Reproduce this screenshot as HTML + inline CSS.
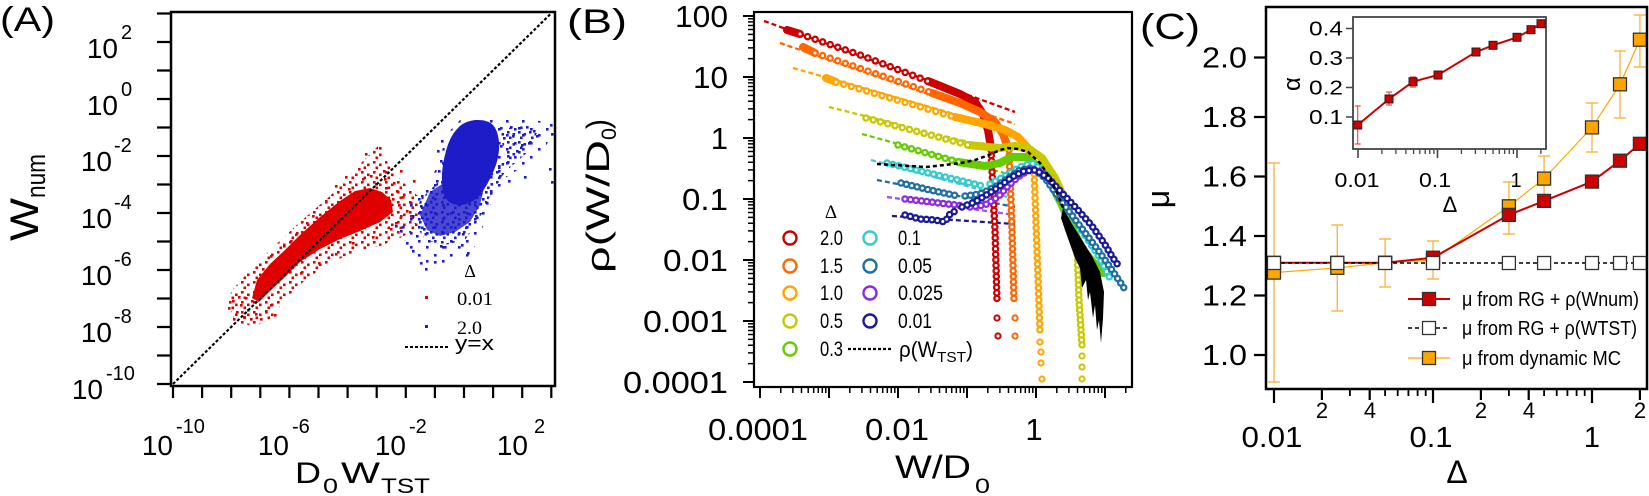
<!DOCTYPE html>
<html><head><meta charset="utf-8">
<style>
html,body{margin:0;padding:0;background:#fff;}
svg{display:block;}
text{font-family:"Liberation Sans",sans-serif;fill:#000;}
.r{font-family:"Liberation Serif",serif;}
</style></head>
<body>
<svg width="1649" height="496" viewBox="0 0 1649 496" xmlns="http://www.w3.org/2000/svg">
<defs>
<pattern id="pr" width="12" height="10" patternUnits="userSpaceOnUse">
<rect x="1" y="1" width="2.6" height="2.6" fill="#e00000"/>
<rect x="7" y="3.5" width="2.6" height="2.6" fill="#e00000"/>
<rect x="3.5" y="6.5" width="2.6" height="2.6" fill="#e00000"/>
</pattern>
<pattern id="pb" width="11" height="10" patternUnits="userSpaceOnUse">
<rect x="1" y="1" width="2.6" height="2.6" fill="#1c1cc8"/>
<rect x="6.5" y="3" width="2.6" height="2.6" fill="#1c1cc8"/>
<rect x="3" y="6.5" width="2.6" height="2.6" fill="#1c1cc8"/>
</pattern>
<pattern id="pb2" width="16" height="14" patternUnits="userSpaceOnUse">
<rect x="2" y="2" width="2.6" height="2.6" fill="#1c1cc8"/>
<rect x="10" y="8" width="2.6" height="2.6" fill="#1c1cc8"/>
</pattern>
</defs>
<rect width="1649" height="496" fill="#fff"/>

<!-- ================= PANEL A ================= -->
<text x="0" y="31" font-size="34" textLength="55" lengthAdjust="spacingAndGlyphs">(A)</text>
<!-- red halo -->
<path fill="url(#pr)" d="M226,300 L234,288 L250,270 L270,250 L300,222 L330,196 L345,180 L362,162 L378,146 L392,170 L405,184 L420,198 L418,228 L400,238 L380,246 L355,252 L330,263 L305,280 L285,300 L272,318 L256,326 L236,323 Z"/>
<!-- scatter red -->
<path fill="#e00000" d="M252,298 L257,280 L270,264 L285,250 L300,235 L320,217 L340,201 L355,191 L370,188 L382,192 L391,200 L393,212 L380,222 L360,231 L340,239 L320,249 L300,262 L285,277 L270,291 L259,302 Z"/>
<path fill="#e00000" d="M228,307h2.6v2.6h-2.6z M232,300h2.6v2.6h-2.6z M236,311h2.6v2.6h-2.6z M240,304h2.6v2.6h-2.6z M243,316h2.6v2.6h-2.6z M247,309h2.6v2.6h-2.6z M250,318h2.6v2.6h-2.6z M238,296h2.6v2.6h-2.6z M245,297h2.6v2.6h-2.6z M233,318h2.6v2.6h-2.6z M255,313h2.6v2.6h-2.6z M260,318h2.6v2.6h-2.6z M265,310h2.6v2.6h-2.6z M270,304h2.6v2.6h-2.6z M274,314h2.6v2.6h-2.6z M251,300h2.6v2.6h-2.6z M262,268h2.6v2.6h-2.6z M270,255h2.6v2.6h-2.6z M275,262h2.6v2.6h-2.6z M283,245h2.6v2.6h-2.6z M290,240h2.6v2.6h-2.6z M296,232h2.6v2.6h-2.6z M306,222h2.6v2.6h-2.6z M312,215h2.6v2.6h-2.6z M325,200h2.6v2.6h-2.6z M335,185h2.6v2.6h-2.6z M345,176h2.6v2.6h-2.6z M358,168h2.6v2.6h-2.6z M365,153h2.6v2.6h-2.6z M379,147h2.6v2.6h-2.6z M362,178h2.6v2.6h-2.6z M370,175h2.6v2.6h-2.6z M348,188h2.6v2.6h-2.6z M300,272h2.6v2.6h-2.6z M318,262h2.6v2.6h-2.6z M335,253h2.6v2.6h-2.6z M352,242h2.6v2.6h-2.6z M372,236h2.6v2.6h-2.6z M390,228h2.6v2.6h-2.6z M392,198h2.6v2.6h-2.6z M398,204h2.6v2.6h-2.6z M402,196h2.6v2.6h-2.6z M406,210h2.6v2.6h-2.6z M410,202h2.6v2.6h-2.6z M400,215h2.6v2.6h-2.6z M395,222h2.6v2.6h-2.6z M410,215h2.6v2.6h-2.6z M388,210h2.6v2.6h-2.6z M396,190h2.6v2.6h-2.6z M385,187h2.6v2.6h-2.6z M393,182h2.6v2.6h-2.6z M384,178h2.6v2.6h-2.6z M375,183h2.6v2.6h-2.6z M383,170h2.6v2.6h-2.6z M400,170h2.6v2.6h-2.6z M413,180h2.6v2.6h-2.6z"/>
<!-- blue halo -->
<path fill="url(#pb2)" d="M400,228 L410,200 L425,188 L440,162 L445,136 L460,120 L495,118 L540,121 L553,127 L545,150 L525,165 L505,178 L490,205 L480,235 L470,256 L445,264 L425,272 L410,256 Z"/>
<path fill="url(#pb)" d="M420,200 L440,180 L480,185 L490,175 L505,160 L500,130 L520,125 L538,130 L530,150 L505,172 L488,200 L478,222 L465,240 L445,245 L425,240 L414,222 Z"/>
<!-- scatter blue -->
<path fill="#1c1cc8" fill-opacity="0.8" d="M430,192 L445,182 L485,184 L480,205 L470,222 L455,232 L440,236 L427,230 L420,215 Z"/>
<path fill="#1c1cc8" d="M458,128 C465,119 485,117 493,125 C500,133 501,150 496,165 C491,178 485,190 477,198 C468,206 455,208 447,200 C440,192 441,170 445,155 C448,142 452,134 458,128 Z"/>
<path fill="#1c1cc8" d="M500,127h2.6v2.6h-2.6z M510,126h2.6v2.6h-2.6z M518,127h2.6v2.6h-2.6z M526,126h2.6v2.6h-2.6z M503,137h2.6v2.6h-2.6z M512,135h2.6v2.6h-2.6z M521,144h2.6v2.6h-2.6z M528,142h2.6v2.6h-2.6z M533,130h2.6v2.6h-2.6z M536,135h2.6v2.6h-2.6z M507,155h2.6v2.6h-2.6z M516,150h2.6v2.6h-2.6z M498,165h2.6v2.6h-2.6z M550,124h2.6v2.6h-2.6z M551,133h2.6v2.6h-2.6z M549,168h2.6v2.6h-2.6z M551,181h2.6v2.6h-2.6z M524,176h2.6v2.6h-2.6z M420,205h2.6v2.6h-2.6z M418,218h2.6v2.6h-2.6z M423,228h2.6v2.6h-2.6z M428,240h2.6v2.6h-2.6z M440,245h2.6v2.6h-2.6z M416,235h2.6v2.6h-2.6z M412,215h2.6v2.6h-2.6z M421,195h2.6v2.6h-2.6z M462,233h2.6v2.6h-2.6z M475,215h2.6v2.6h-2.6z M420,262h2.6v2.6h-2.6z M425,268h2.6v2.6h-2.6z M434,261h2.6v2.6h-2.6z M444,246h2.6v2.6h-2.6z M461,244h2.6v2.6h-2.6z M467,252h2.6v2.6h-2.6z M412,250h2.6v2.6h-2.6z M406,242h2.6v2.6h-2.6z M400,230h2.6v2.6h-2.6z M395,225h2.6v2.6h-2.6z M440,160h2.6v2.6h-2.6z M438,170h2.6v2.6h-2.6z M436,180h2.6v2.6h-2.6z M437,150h2.6v2.6h-2.6z M441,140h2.6v2.6h-2.6z M500,145h2.6v2.6h-2.6z M499,175h2.6v2.6h-2.6z M490,192h2.6v2.6h-2.6z M486,202h2.6v2.6h-2.6z M508,180h2.6v2.6h-2.6z"/>
<!-- diagonal -->
<path d="M173,384 L551,13.5" stroke="#000" stroke-width="2.2" stroke-dasharray="3 2" fill="none"/>
<!-- frame A -->
<rect x="171" y="12" width="384" height="374" fill="none" stroke="#000" stroke-width="2.5"/>
<path stroke="#000" stroke-width="2.2" fill="none" d="M157,13.5H171 M157,42H171 M157,70.5H171 M157,99H171 M157,127.5H171 M157,156H171 M157,184.5H171 M157,213H171 M157,241.5H171 M157,270H171 M157,298.5H171 M157,327H171 M157,355.5H171 M157,384H171 M173,386V398 M202.1,386V398 M231.2,386V398 M260.3,386V398 M289.4,386V398 M318.5,386V398 M347.6,386V398 M376.7,386V398 M405.8,386V398 M434.9,386V398 M464,386V398 M493.1,386V398 M522.2,386V398 M551.3,386V398"/>
<!-- y labels A -->
<text x="118" y="58" text-anchor="end" font-size="28">10</text><text x="121" y="39" font-size="20">2</text>
<text x="118" y="115" text-anchor="end" font-size="28">10</text><text x="121" y="96" font-size="20">0</text>
<text x="112" y="171" text-anchor="end" font-size="28">10</text><text x="114" y="152" font-size="20">-2</text>
<text x="112" y="228" text-anchor="end" font-size="28">10</text><text x="114" y="209" font-size="20">-4</text>
<text x="112" y="285" text-anchor="end" font-size="28">10</text><text x="114" y="266" font-size="20">-6</text>
<text x="112" y="342" text-anchor="end" font-size="28">10</text><text x="114" y="323" font-size="20">-8</text>
<text x="103" y="399" text-anchor="end" font-size="28">10</text><text x="106" y="380" font-size="20">-10</text>
<!-- x labels A -->
<text x="173" y="455" text-anchor="end" font-size="28">10</text><text x="176" y="433" font-size="20">-10</text>
<text x="289" y="455" text-anchor="end" font-size="28">10</text><text x="292" y="433" font-size="20">-6</text>
<text x="406" y="455" text-anchor="end" font-size="28">10</text><text x="409" y="433" font-size="20">-2</text>
<text x="528" y="455" text-anchor="end" font-size="28">10</text><text x="534" y="433" font-size="20">2</text>
<!-- x title A -->
<text x="295" y="483" font-size="30" textLength="26" lengthAdjust="spacingAndGlyphs">D</text>
<text x="323" y="493" font-size="21" textLength="15" lengthAdjust="spacingAndGlyphs">0</text>
<text x="341" y="483" font-size="30" textLength="39" lengthAdjust="spacingAndGlyphs">W</text>
<text x="381" y="493" font-size="21" textLength="49" lengthAdjust="spacingAndGlyphs">TST</text>
<!-- y title A -->
<text transform="translate(38,241) rotate(-90)" font-size="40" textLength="43" lengthAdjust="spacingAndGlyphs">W</text>
<text transform="translate(45,198) rotate(-90)" font-size="27" textLength="44" lengthAdjust="spacingAndGlyphs">num</text>
<!-- legend A -->
<text x="470" y="277" text-anchor="middle" class="r" font-size="18">Δ</text>
<rect x="425" y="296" width="3" height="3" fill="#e00000"/>
<text x="457" y="305" class="r" font-size="19" textLength="36" lengthAdjust="spacingAndGlyphs">0.01</text>
<rect x="425" y="325" width="3" height="3" fill="#1c1cc8"/>
<text x="457" y="334" class="r" font-size="19" textLength="25" lengthAdjust="spacingAndGlyphs">2.0</text>
<path d="M405,347H448" stroke="#000" stroke-width="2" stroke-dasharray="3 2"/>
<text x="455" y="350" font-size="20" textLength="39" lengthAdjust="spacingAndGlyphs">y=x</text>

<!-- ================= PANEL B ================= -->
<text x="567" y="33" font-size="34" textLength="60" lengthAdjust="spacingAndGlyphs">(B)</text>
<g fill="none" stroke-width="2.3" stroke-dasharray="5 3">
<path d="M764,21 L1015,112" stroke="#cc0000"/>
<path d="M780,43 L1015,124" stroke="#ff6600"/>
<path d="M793,68 L1000,127" stroke="#ffa500"/>
<path d="M829,107 L1000,150" stroke="#c8c800"/>
<path d="M862,134 L1015,176" stroke="#66cc00"/>
<path d="M871,160 L1015,199" stroke="#55b8ee"/>
<path d="M877,180 L1015,207" stroke="#1f6fa0"/>
<path d="M887,197 L1015,215" stroke="#9955ee"/>
<path d="M892,216 L1015,224" stroke="#1a1a99"/>
</g>
<g fill="none" stroke-linecap="round" stroke-linejoin="round">
<path d="M787,30 L800,34" stroke="#cc0000" stroke-width="8"/>
<path d="M928,81 L960,94 L975,102 L983,114 L988,130 L991,148" stroke="#cc0000" stroke-width="8"/>
<path d="M800,34 L860,55 L930,82" stroke="#cc0000" stroke-width="7.5" stroke-dasharray="0 8"/>
<path d="M800,34 L860,55 L930,82" stroke="#fff" stroke-width="3" stroke-dasharray="0 8"/>
<path d="M991,150 L995,230 L997,300" stroke="#cc0000" stroke-width="7.5" stroke-dasharray="0 5.5"/>
<path d="M991,150 L995,230 L997,300" stroke="#fff" stroke-width="3" stroke-dasharray="0 5.5"/>
<path d="M803,47 L815,53" stroke="#ff6600" stroke-width="8"/>
<path d="M932,93 L960,103 L980,112 L995,122 L1003,134 L1008,148" stroke="#ff6600" stroke-width="8"/>
<path d="M815,53 L935,94" stroke="#ff6600" stroke-width="7.5" stroke-dasharray="0 8"/>
<path d="M815,53 L935,94" stroke="#fff" stroke-width="3" stroke-dasharray="0 8"/>
<path d="M1009,150 L1012,230 L1014,300" stroke="#ff6600" stroke-width="7.5" stroke-dasharray="0 5.5"/>
<path d="M1009,150 L1012,230 L1014,300" stroke="#fff" stroke-width="3" stroke-dasharray="0 5.5"/>
<path d="M826,78 L836,82" stroke="#ffa500" stroke-width="8"/>
<path d="M955,117 L985,124 L1005,130 L1018,137 L1028,148 L1033,163" stroke="#ffa500" stroke-width="8"/>
<path d="M836,82 L958,118" stroke="#ffa500" stroke-width="7.5" stroke-dasharray="0 8"/>
<path d="M836,82 L958,118" stroke="#fff" stroke-width="3" stroke-dasharray="0 8"/>
<path d="M1034,168 L1037,250 L1040,332" stroke="#ffa500" stroke-width="7.5" stroke-dasharray="0 6"/>
<path d="M1034,168 L1037,250 L1040,332" stroke="#fff" stroke-width="3" stroke-dasharray="0 6"/>
<path d="M968,145 L1000,148 L1015,146 L1028,148 L1042,158 L1055,178 L1065,200 L1072,225 L1076,242" stroke="#c8c800" stroke-width="8"/>
<path d="M866,118 L972,146" stroke="#c8c800" stroke-width="7.5" stroke-dasharray="0 7.5"/>
<path d="M866,118 L972,146" stroke="#fff" stroke-width="3" stroke-dasharray="0 7.5"/>
<path d="M1077,245 L1079,300 L1082,345" stroke="#c8c800" stroke-width="7.5" stroke-dasharray="0 5"/>
<path d="M1077,245 L1079,300 L1082,345" stroke="#fff" stroke-width="3" stroke-dasharray="0 5"/>
<path d="M958,162 L985,166 L1000,163 L1012,157 L1025,157 L1038,166 L1050,182 L1062,205 L1072,228 L1083,250 L1093,262 L1103,273" stroke="#66cc00" stroke-width="8"/>
<path d="M898,145 L962,163" stroke="#66cc00" stroke-width="7.5" stroke-dasharray="0 7"/>
<path d="M898,145 L962,163" stroke="#fff" stroke-width="3" stroke-dasharray="0 7"/>
<path d="M887,163 L983,186 M990,184 L1005,176 L1020,167 L1032,163 L1045,172 L1060,196 L1080,228 L1098,255 L1112,282" stroke="#33cccc" stroke-width="7.5" stroke-dasharray="0 6"/>
<path d="M887,163 L983,186 M990,184 L1005,176 L1020,167 L1032,163 L1045,172 L1060,196 L1080,228 L1098,255 L1112,282" stroke="#fff" stroke-width="3" stroke-dasharray="0 6"/>
<path d="M901,183 L930,190 L958,196 M965,196 L980,194 L995,187 L1008,178 L1020,170 L1032,168 L1045,178 L1062,202 L1080,226 L1098,250 L1112,270 L1126,291" stroke="#1f6fa0" stroke-width="7.5" stroke-dasharray="0 5.5"/>
<path d="M901,183 L930,190 L958,196 M965,196 L980,194 L995,187 L1008,178 L1020,170 L1032,168 L1045,178 L1062,202 L1080,226 L1098,250 L1112,270 L1126,291" stroke="#fff" stroke-width="3" stroke-dasharray="0 5.5"/>
<path d="M905,199 L965,206 M970,207 L985,205 L998,197 L1008,186 L1018,177 L1030,169 L1042,172 L1055,185" stroke="#8a2be2" stroke-width="7.5" stroke-dasharray="0 5.5"/>
<path d="M905,199 L965,206 M970,207 L985,205 L998,197 L1008,186 L1018,177 L1030,169 L1042,172 L1055,185" stroke="#fff" stroke-width="3" stroke-dasharray="0 5.5"/>
<path d="M905,215 L920,219 L935,220 L945,222 L950,214 L957,210 M962,207 L975,202 L988,194 L1000,186 L1012,177 L1024,171 L1036,170 L1048,178 L1062,193 L1078,210 L1092,226 L1104,243 L1113,258 L1118,265" stroke="#1a1a99" stroke-width="7.5" stroke-dasharray="0 5.5"/>
<path d="M905,215 L920,219 L935,220 L945,222 L950,214 L957,210 M962,207 L975,202 L988,194 L1000,186 L1012,177 L1024,171 L1036,170 L1048,178 L1062,193 L1078,210 L1092,226 L1104,243 L1113,258 L1118,265" stroke="#fff" stroke-width="3" stroke-dasharray="0 5.5"/>
</g>
<g fill="#fff" stroke-width="2">
<circle cx="997" cy="318" r="2.6" stroke="#cc0000"/><circle cx="998" cy="336" r="2.6" stroke="#cc0000"/>
<circle cx="1015" cy="318" r="2.6" stroke="#ff6600"/><circle cx="1015" cy="336" r="2.6" stroke="#ff6600"/>
<circle cx="1040" cy="342" r="2.6" stroke="#ffa500"/><circle cx="1041" cy="352" r="2.6" stroke="#ffa500"/><circle cx="1041" cy="363" r="2.6" stroke="#ffa500"/><circle cx="1042" cy="379" r="2.6" stroke="#ffa500"/>
<circle cx="1082" cy="356" r="2.6" stroke="#c8c800"/><circle cx="1082" cy="367" r="2.6" stroke="#c8c800"/><circle cx="1082" cy="379" r="2.6" stroke="#c8c800"/>
</g>
<!-- black rho(W_TST) -->
<path d="M877,164 L926,167 L945,165 L961,163 L975,160 L989,155 L1000,150 L1008,148 L1018,149 L1028,152 L1040,163 L1050,178 L1058,195 L1064,210" fill="none" stroke="#000" stroke-width="2.5" stroke-dasharray="4 3"/>
<path d="M1063,208 L1072,224 L1082,240 L1092,256 L1100,272 L1104,292 L1103,318 L1101,343 L1099,320 L1097,330 L1095,305 L1093,318 L1090,292 L1088,300 L1086,280 L1082,288 L1080,268 L1075,258 L1070,244 L1065,230 L1061,218 Z" fill="#000"/>
<!-- frame B -->
<rect x="754" y="12" width="378" height="375" fill="none" stroke="#000" stroke-width="2.2"/>
<path stroke="#000" stroke-width="2" fill="none" d="M743,16H754 M743,77H754 M743,138H754 M743,199H754 M743,260H754 M743,321H754 M743,382H754 M760,387V398 M829,387V398 M898,387V398 M967,387V398 M1036,387V398 M1105,387V398"/>
<path stroke="#000" stroke-width="1.5" fill="none" d="M748,363.6H754 M748,352.9H754 M748,345.3H754 M748,339.4H754 M748,334.5H754 M748,330.5H754 M748,326.9H754 M748,323.8H754 M748,302.6H754 M748,291.9H754 M748,284.3H754 M748,278.4H754 M748,273.5H754 M748,269.5H754 M748,265.9H754 M748,262.8H754 M748,241.6H754 M748,230.9H754 M748,223.3H754 M748,217.4H754 M748,212.5H754 M748,208.5H754 M748,204.9H754 M748,201.8H754 M748,180.6H754 M748,169.9H754 M748,162.3H754 M748,156.4H754 M748,151.5H754 M748,147.5H754 M748,143.9H754 M748,140.8H754 M748,119.6H754 M748,108.9H754 M748,101.3H754 M748,95.4H754 M748,90.5H754 M748,86.5H754 M748,82.9H754 M748,79.8H754 M748,58.6H754 M748,47.9H754 M748,40.3H754 M748,34.4H754 M748,29.5H754 M748,25.5H754 M748,21.9H754 M748,18.8H754
M780.8,387V393 M792.9,387V393 M801.5,387V393 M808.2,387V393 M813.7,387V393 M818.3,387V393 M822.3,387V393 M825.8,387V393 M849.8,387V393 M861.9,387V393 M870.5,387V393 M877.2,387V393 M882.7,387V393 M887.3,387V393 M891.3,387V393 M894.8,387V393 M918.8,387V393 M930.9,387V393 M939.5,387V393 M946.2,387V393 M951.7,387V393 M956.3,387V393 M960.3,387V393 M963.8,387V393 M987.8,387V393 M999.9,387V393 M1008.5,387V393 M1015.2,387V393 M1020.7,387V393 M1025.3,387V393 M1029.3,387V393 M1032.8,387V393 M1056.8,387V393 M1068.9,387V393 M1077.5,387V393 M1084.2,387V393 M1089.7,387V393 M1094.3,387V393 M1098.3,387V393 M1101.8,387V393 M1125.8,387V393"/>
<g font-size="31" text-anchor="end">
<text x="728" y="27" textLength="53" lengthAdjust="spacingAndGlyphs">100</text>
<text x="728" y="88" textLength="35" lengthAdjust="spacingAndGlyphs">10</text>
<text x="728" y="149">1</text>
<text x="728" y="210" textLength="46" lengthAdjust="spacingAndGlyphs">0.1</text>
<text x="728" y="271" textLength="65" lengthAdjust="spacingAndGlyphs">0.01</text>
<text x="728" y="332" textLength="85" lengthAdjust="spacingAndGlyphs">0.001</text>
<text x="728" y="393" textLength="105" lengthAdjust="spacingAndGlyphs">0.0001</text>
</g>
<g font-size="31" text-anchor="middle">
<text x="758" y="440" textLength="100" lengthAdjust="spacingAndGlyphs">0.0001</text>
<text x="897" y="440" textLength="64" lengthAdjust="spacingAndGlyphs">0.01</text>
<text x="1034" y="440">1</text>
</g>
<text x="895" y="478" font-size="32" textLength="76" lengthAdjust="spacingAndGlyphs">W/D</text>
<text x="975" y="493" font-size="21" textLength="15" lengthAdjust="spacingAndGlyphs">0</text>
<text transform="translate(609,273) rotate(-90)" font-size="32" textLength="133" lengthAdjust="spacingAndGlyphs">ρ(W/D</text>
<text transform="translate(616,140) rotate(-90)" font-size="21" textLength="12" lengthAdjust="spacingAndGlyphs">0</text>
<text transform="translate(609,129) rotate(-90)" font-size="32" textLength="10" lengthAdjust="spacingAndGlyphs">)</text>
<!-- legend B -->
<text x="831" y="218" text-anchor="middle" class="r" font-size="19">Δ</text>
<g fill="none" stroke-width="2.4">
<circle cx="790" cy="238" r="6.5" stroke="#cc0000"/>
<circle cx="790" cy="266" r="6.5" stroke="#ff6600"/>
<circle cx="790" cy="293" r="6.5" stroke="#ffa500"/>
<circle cx="790" cy="321" r="6.5" stroke="#c8c800"/>
<circle cx="790" cy="349" r="6.5" stroke="#66cc00"/>
<circle cx="870" cy="238" r="6.5" stroke="#33cccc"/>
<circle cx="870" cy="266" r="6.5" stroke="#1f6fa0"/>
<circle cx="870" cy="293" r="6.5" stroke="#8a2be2"/>
<circle cx="870" cy="321" r="6.5" stroke="#1a1a99"/>
</g>
<g class="r" font-size="21">
<text x="820" y="245" textLength="23" lengthAdjust="spacingAndGlyphs">2.0</text>
<text x="820" y="273" textLength="23" lengthAdjust="spacingAndGlyphs">1.5</text>
<text x="820" y="300" textLength="23" lengthAdjust="spacingAndGlyphs">1.0</text>
<text x="820" y="328" textLength="23" lengthAdjust="spacingAndGlyphs">0.5</text>
<text x="820" y="356" textLength="23" lengthAdjust="spacingAndGlyphs">0.3</text>
<text x="898" y="245" textLength="23" lengthAdjust="spacingAndGlyphs">0.1</text>
<text x="898" y="273" textLength="34" lengthAdjust="spacingAndGlyphs">0.05</text>
<text x="898" y="300" textLength="45" lengthAdjust="spacingAndGlyphs">0.025</text>
<text x="898" y="328" textLength="34" lengthAdjust="spacingAndGlyphs">0.01</text>
</g>
<path d="M848,349H891" stroke="#000" stroke-width="2.2" stroke-dasharray="3 2"/>
<text x="899" y="357" font-size="22" textLength="38" lengthAdjust="spacingAndGlyphs">ρ(W</text>
<text x="937" y="362" font-size="15" textLength="29" lengthAdjust="spacingAndGlyphs">TST</text>
<text x="966" y="357" font-size="22" textLength="7" lengthAdjust="spacingAndGlyphs">)</text>

<!-- ================= PANEL C ================= -->
<text x="1140" y="39" font-size="36" textLength="60" lengthAdjust="spacingAndGlyphs">(C)</text>
<path d="M1274,272.6 L1337.3,267.8 L1385.1,262.8 L1433,259.8 L1508.9,206.3 L1544.1,178.6 L1592,127.4 L1620,84.3 L1639.9,39.7" fill="none" stroke="#ffa500" stroke-width="1.2"/>
<path d="M1274,262.8 L1337.3,262.8 L1385.1,262.8 L1433,257.7 L1508.9,214.9 L1544.1,200.9 L1592,181.6 L1620,160.7 L1639.9,143.8" fill="none" stroke="#cc0000" stroke-width="2"/>
<path d="M1274,263 H1640" stroke="#000" stroke-width="1.6" stroke-dasharray="4 3"/>
<path fill="none" stroke="#f8b84a" stroke-width="1.4" d="M1274,163V382 M1268,163H1280 M1268,382H1280 M1337.3,225V311 M1331.3,225H1343.3 M1331.3,311H1343.3 M1385.1,239V287 M1379.1,239H1391.1 M1379.1,287H1391.1 M1433,241V279 M1427,241H1439 M1427,279H1439 M1508.9,182V234 M1502.9,182H1514.9 M1502.9,234H1514.9 M1544.1,156V201 M1538.1,156H1550.1 M1592,103V152 M1586,103H1598 M1586,152H1598 M1620,51V118 M1614,51H1626 M1614,118H1626 M1639.9,15V67 M1633.9,15H1645.9 M1633.9,67H1645.9"/>
<g stroke="#333" stroke-width="1.3">
<g fill="#ffa500">
<rect x="1267.5" y="266.1" width="13" height="13"/><rect x="1330.8" y="261.3" width="13" height="13"/><rect x="1378.6" y="256.3" width="13" height="13"/><rect x="1426.5" y="253.3" width="13" height="13"/><rect x="1502.4" y="199.8" width="13" height="13"/><rect x="1537.6" y="172.1" width="13" height="13"/><rect x="1585.5" y="120.9" width="13" height="13"/><rect x="1613.5" y="77.8" width="13" height="13"/><rect x="1633.4" y="33.2" width="13" height="13"/>
</g>
<g fill="#cc0000">
<rect x="1267.5" y="256.3" width="13" height="13"/><rect x="1330.8" y="256.3" width="13" height="13"/><rect x="1378.6" y="256.3" width="13" height="13"/><rect x="1426.5" y="251.2" width="13" height="13"/><rect x="1502.4" y="208.4" width="13" height="13"/><rect x="1537.6" y="194.4" width="13" height="13"/><rect x="1585.5" y="175.1" width="13" height="13"/><rect x="1613.5" y="154.2" width="13" height="13"/><rect x="1633.4" y="137.3" width="13" height="13"/>
</g>
<g fill="#fff">
<rect x="1267.5" y="256.5" width="13" height="13"/><rect x="1330.8" y="256.5" width="13" height="13"/><rect x="1378.6" y="256.5" width="13" height="13"/><rect x="1426.5" y="256.5" width="13" height="13"/><rect x="1502.4" y="256.5" width="13" height="13"/><rect x="1537.6" y="256.5" width="13" height="13"/><rect x="1585.5" y="256.5" width="13" height="13"/><rect x="1613.5" y="256.5" width="13" height="13"/><rect x="1633.4" y="256.5" width="13" height="13"/>
</g>
</g>
<rect x="1266" y="7" width="381" height="382" fill="none" stroke="#000" stroke-width="2.5"/>
<path stroke="#000" stroke-width="2.2" fill="none" d="M1254,57.5H1266 M1254,117H1266 M1254,176.5H1266 M1254,236H1266 M1254,295.5H1266 M1254,355H1266 M1274,389V403 M1433,389V403 M1592,389V403 M1321.9,389V400 M1369.7,389V400 M1480.9,389V400 M1528.7,389V400 M1639.9,389V400"/>
<path stroke="#000" stroke-width="1.8" fill="none" d="M1349.9,389V396 M1385.1,389V396 M1397.7,389V396 M1408.4,389V396 M1417.6,389V396 M1425.7,389V396 M1508.9,389V396 M1544.1,389V396 M1556.7,389V396 M1567.4,389V396 M1576.6,389V396 M1584.7,389V396"/>
<g font-size="29" text-anchor="end">
<text x="1247" y="67.5" textLength="45" lengthAdjust="spacingAndGlyphs">2.0</text>
<text x="1247" y="127" textLength="45" lengthAdjust="spacingAndGlyphs">1.8</text>
<text x="1247" y="186.5" textLength="45" lengthAdjust="spacingAndGlyphs">1.6</text>
<text x="1247" y="246" textLength="45" lengthAdjust="spacingAndGlyphs">1.4</text>
<text x="1247" y="305.5" textLength="45" lengthAdjust="spacingAndGlyphs">1.2</text>
<text x="1247" y="365" textLength="45" lengthAdjust="spacingAndGlyphs">1.0</text>
</g>
<g font-size="22" text-anchor="middle">
<text x="1322" y="418">2</text><text x="1370" y="418">4</text><text x="1481" y="418">2</text><text x="1529" y="418">4</text><text x="1640" y="418">2</text>
</g>
<g font-size="29" text-anchor="middle">
<text x="1272" y="447" textLength="61" lengthAdjust="spacingAndGlyphs">0.01</text>
<text x="1431" y="447" textLength="43" lengthAdjust="spacingAndGlyphs">0.1</text>
<text x="1592" y="447">1</text>
</g>
<text x="1457" y="483" font-size="32" text-anchor="middle">Δ</text>
<text transform="translate(1169,199) rotate(-90)" font-size="32" text-anchor="middle">μ</text>
<path d="M1408,299H1450" stroke="#cc0000" stroke-width="2"/>
<rect x="1422.5" y="292.5" width="13" height="13" fill="#cc0000" stroke="#333" stroke-width="1.3"/>
<path d="M1408,328H1450" stroke="#000" stroke-width="1.6" stroke-dasharray="4 3"/>
<rect x="1422.5" y="321.5" width="13" height="13" fill="#fff" stroke="#333" stroke-width="1.3"/>
<path d="M1408,358H1450" stroke="#ffa500" stroke-width="1.2"/>
<rect x="1422.5" y="351.5" width="13" height="13" fill="#ffa500" stroke="#333" stroke-width="1.3"/>
<g font-size="20">
<text x="1462" y="306" textLength="177" lengthAdjust="spacingAndGlyphs">μ  from RG + ρ(Wnum)</text>
<text x="1462" y="335" textLength="175" lengthAdjust="spacingAndGlyphs">μ  from RG + ρ(WTST)</text>
<text x="1462" y="365" textLength="159" lengthAdjust="spacingAndGlyphs">μ  from dynamic MC</text>
</g>
<!-- inset -->
<rect x="1353" y="17" width="193" height="132" fill="#fff" stroke="#444" stroke-width="1.8"/>
<path stroke="#444" stroke-width="1.6" fill="none" d="M1346,117H1353 M1346,87.5H1353 M1346,58H1353 M1346,28.5H1353 M1358,149V158 M1437.5,149V158 M1517,149V158"/>
<path stroke="#444" stroke-width="1.3" fill="none" d="M1381.9,149V154 M1395.9,149V154 M1405.9,149V154 M1413.6,149V154 M1419.8,149V154 M1425.2,149V154 M1429.8,149V154 M1433.9,149V154 M1461.4,149V154 M1475.4,149V154 M1485.4,149V154 M1493.1,149V154 M1499.3,149V154 M1504.7,149V154 M1509.3,149V154 M1513.4,149V154 M1540.9,149V154"/>
<g font-size="20" text-anchor="end">
<text x="1343" y="35.5" textLength="34" lengthAdjust="spacingAndGlyphs">0.4</text>
<text x="1343" y="65" textLength="34" lengthAdjust="spacingAndGlyphs">0.3</text>
<text x="1343" y="94.5" textLength="34" lengthAdjust="spacingAndGlyphs">0.2</text>
<text x="1343" y="124" textLength="34" lengthAdjust="spacingAndGlyphs">0.1</text>
</g>
<g font-size="20" text-anchor="middle">
<text x="1357" y="187" textLength="45" lengthAdjust="spacingAndGlyphs">0.01</text>
<text x="1435" y="187" textLength="32" lengthAdjust="spacingAndGlyphs">0.1</text>
<text x="1516" y="187">1</text>
</g>
<text x="1450" y="212" font-size="22" text-anchor="middle">Δ</text>
<text transform="translate(1300,84) rotate(-90)" font-size="24" text-anchor="middle">α</text>
<path fill="none" stroke="#e05555" stroke-width="1.2" d="M1357.7,106V144 M1354.7,106H1360.7 M1354.7,144H1360.7 M1389,92V105 M1386,92H1392 M1386,105H1392 M1413,77V87 M1410,77H1416 M1410,87H1416 M1438,72V79 M1435,72H1441 M1435,79H1441"/>
<path d="M1357.7,125 L1389,99 L1413,81.7 L1438,75 L1476,52 L1493,45.3 L1517,37.3 L1531,29.7 L1541,23.7" fill="none" stroke="#cc0000" stroke-width="2"/>
<g fill="#cc0000" stroke="#222" stroke-width="1">
<rect x="1353.7" y="121" width="8" height="8"/><rect x="1385" y="95" width="8" height="8"/><rect x="1409" y="77.7" width="8" height="8"/><rect x="1434" y="71" width="8" height="8"/><rect x="1472" y="48" width="8" height="8"/><rect x="1489" y="41.3" width="8" height="8"/><rect x="1513" y="33.3" width="8" height="8"/><rect x="1527" y="25.7" width="8" height="8"/><rect x="1537" y="19.7" width="8" height="8"/>
</g>
</svg>
</body></html>
